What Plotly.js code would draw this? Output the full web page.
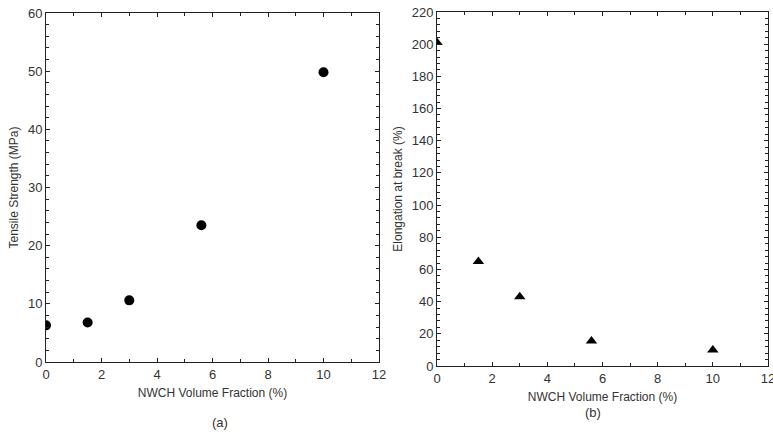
<!DOCTYPE html>
<html>
<head>
<meta charset="utf-8">
<script src="https://cdn.plot.ly/plotly-3.0.1.min.js"></script>
<style>html,body{margin:0;padding:0;background:#fff;}#chart{width:773px;height:435px;}</style>
</head>
<body>
<div id="chart"></div>
<script>
const volumeFraction = [0, 1.5, 3, 5.6, 10];
const tensileStrength = [6.3, 6.8, 10.6, 23.5, 49.8];
const elongation = [201, 65, 43, 15.5, 10];
const xTitle = 'NWCH Volume Fraction (%)';
const yTitleA = 'Tensile Strength (MPa)';
const yTitleB = 'Elongation at break (%)';
const panelLabels = ['(a)', '(b)'];

const font = {family: 'Liberation Sans, Arial, sans-serif', size: 12, color: '#333'};
const tickFont = {family: 'Liberation Sans, Arial, sans-serif', size: 13, color: '#333'};
const lineCol = '#222';

function axisBase(extra) {
  return Object.assign({
    showline: true, linecolor: lineCol, linewidth: 1, mirror: 'ticks',
    ticks: 'inside', ticklen: 4, tickcolor: lineCol, tickwidth: 1,
    showgrid: false, zeroline: false, tickfont: tickFont, ticklabeloverflow: 'allow',
  }, extra);
}

const data = [
  {x: volumeFraction, y: tensileStrength, type: 'scatter', mode: 'markers',
   marker: {symbol: 'circle', size: 10, color: '#000'}, xaxis: 'x', yaxis: 'y', showlegend: false},
  {x: volumeFraction, y: elongation, type: 'scatter', mode: 'markers',
   marker: {symbol: 'triangle-up', size: 10, color: '#000'}, xaxis: 'x2', yaxis: 'y2', showlegend: false}
];

const layout = {
  width: 773, height: 435,
  margin: {l: 0, r: 0, t: 0, b: 0},
  paper_bgcolor: '#fff', plot_bgcolor: '#fff',
  font: font,
  xaxis: axisBase({domain: [46/773, 379/773], range: [0, 12], dtick: 2, anchor: 'y',
    minor: {dtick: 1, ticks: 'inside', ticklen: 3, tickcolor: lineCol},
    title: {text: xTitle, font: font, standoff: 8}}),
  yaxis: axisBase({domain: [1 - 362/435, 1 - 13/435], range: [0, 60], dtick: 10, anchor: 'x',
    minor: {dtick: 2, ticks: 'inside', ticklen: 3, tickcolor: lineCol},
    title: {text: yTitleA, font: font, standoff: 6}}),
  xaxis2: axisBase({domain: [437/773, 768/773], range: [0, 12], dtick: 2, anchor: 'y2',
    minor: {dtick: 1, ticks: 'inside', ticklen: 3, tickcolor: lineCol},
    title: {text: xTitle, font: font, standoff: 8}}),
  yaxis2: axisBase({domain: [1 - 366/435, 1 - 12/435], range: [0, 220], dtick: 20, anchor: 'x2',
    minor: {dtick: 4, ticks: 'inside', ticklen: 3, tickcolor: lineCol},
    title: {text: yTitleB, font: font, standoff: 6}}),
  annotations: [
    {text: panelLabels[0], x: 210/773, y: 1 - 422/435, xref: 'paper', yref: 'paper', yanchor: 'middle', showarrow: false, font: tickFont},
    {text: panelLabels[1], x: 603/773, y: 1 - 412/435, xref: 'paper', yref: 'paper', yanchor: 'middle', showarrow: false, font: tickFont}
  ]
};

Plotly.newPlot('chart', data, layout, {displayModeBar: false, staticPlot: true});
</script>
</body>
</html>
